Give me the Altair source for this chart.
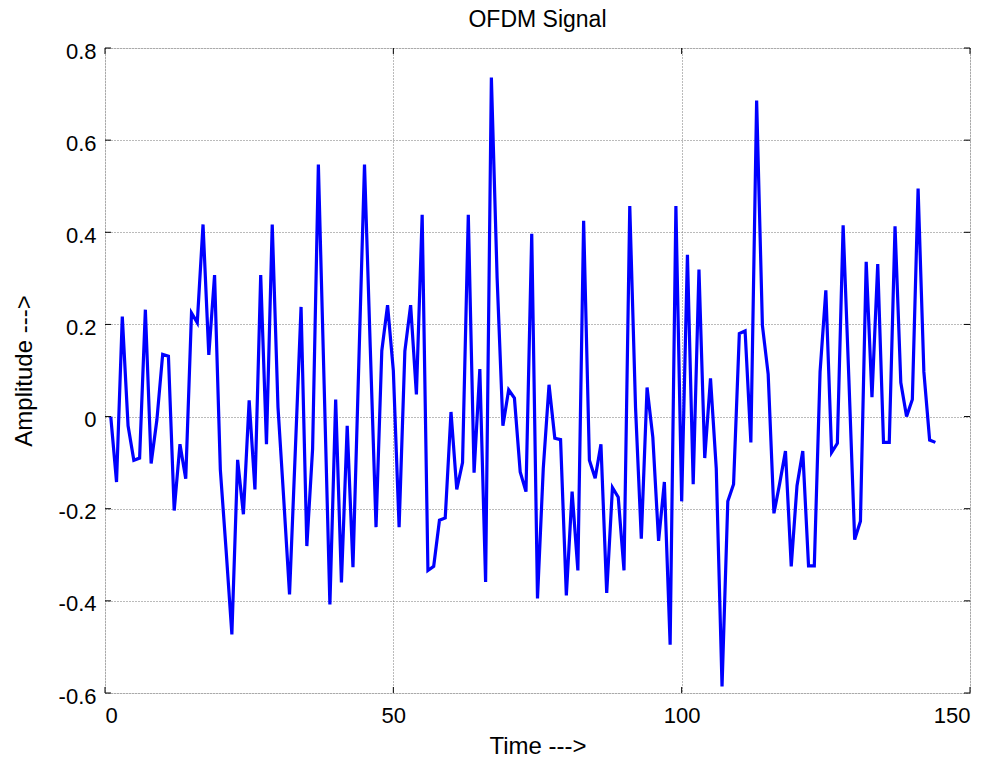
import altair as alt
import pandas as pd

# Real part of the OFDM time-domain samples, one value per sample index 1..144
amplitude = [
    0.0, -0.142, 0.217, -0.02, -0.095, -0.09, 0.232, -0.102, -0.007, 0.135,
    0.131, -0.204, -0.06, -0.135, 0.225, 0.204, 0.417, 0.134, 0.307, -0.115,
    -0.29, -0.473, -0.094, -0.212, 0.035, -0.158, 0.307, -0.06, 0.417, 0.02,
    -0.18, -0.386, -0.075, 0.238, -0.281, -0.07, 0.547, 0.07, -0.408, 0.037,
    -0.36, -0.02, -0.327, 0.11, 0.547, 0.15, -0.24, 0.143, 0.242, 0.1,
    -0.24, 0.142, 0.242, 0.048, 0.438, -0.334, -0.325, -0.225, -0.22, 0.01,
    -0.158, -0.10, 0.438, -0.122, 0.103, -0.359, 0.736, 0.3, -0.02, 0.058,
    0.04, -0.12, -0.163, 0.397, -0.395, -0.113, 0.069, -0.047, -0.05, -0.388,
    -0.163, -0.334, 0.425, -0.095, -0.134, -0.06, -0.383, -0.154, -0.175, -0.334,
    0.457, 0.02, -0.265, 0.063, -0.045, -0.27, -0.142, -0.495, 0.457, -0.184,
    0.351, -0.147, 0.319, -0.09, 0.083, -0.113, -0.586, -0.184, -0.147, 0.18,
    0.186, -0.056, 0.686, 0.198, 0.092, -0.21, -0.145, -0.075, -0.325, -0.15,
    -0.075, -0.324, -0.324, 0.097, 0.274, -0.078, -0.058, 0.415, 0.08, -0.267,
    -0.227, 0.336, 0.042, 0.331, -0.056, -0.056, 0.413, 0.074, 0.0, 0.037,
    0.495, 0.097, -0.051, -0.056,
]
sample_index = list(range(1, len(amplitude) + 1))

x_ticks = [0, 50, 100, 150]
y_ticks = [-0.6, -0.4, -0.2, 0, 0.2, 0.4, 0.6, 0.8]

W, H = 865, 645
FONT = "Liberation Sans"
TICK_LEN = 6

signal = pd.DataFrame({"t": sample_index, "amp": amplitude})
xt = pd.DataFrame({"v": x_ticks})
yt = pd.DataFrame({"v": y_ticks})

x_scale = alt.Scale(domain=[0, 150], nice=False, zero=False)
y_scale = alt.Scale(domain=[-0.6, 0.8], nice=False, zero=False)

x_axis = alt.Axis(
    values=x_ticks, grid=True, gridColor="#777777", gridDash=[1, 2], gridWidth=1,
    ticks=False, domain=False, labelFont=FONT, labelFontSize=22, labelColor="black",
    labelPadding=12, title="Time --->", titleFont=FONT, titleFontSize=24,
    titleFontWeight="normal", titleColor="black", titlePadding=8,
)
y_axis = alt.Axis(
    values=y_ticks, grid=True, gridColor="#777777", gridDash=[1, 2], gridWidth=1,
    ticks=False, domain=False, labelFont=FONT, labelFontSize=22, labelColor="black",
    labelPadding=9, labelOffset=3, labelExpr="'' + datum.value", title="Amplitude --->",
    titleFont=FONT, titleFontSize=24, titleFontWeight="normal", titleColor="black",
    titlePadding=22,
)

line = alt.Chart(signal).mark_line(color="#0000ff", strokeWidth=3.2).encode(
    x=alt.X("t:Q", scale=x_scale, axis=x_axis),
    y=alt.Y("amp:Q", scale=y_scale, axis=y_axis),
)

# Inward-pointing tick marks on all four sides of the box
tick_style = dict(color="black", strokeWidth=1)
bottom_ticks = alt.Chart(xt).mark_rule(**tick_style).encode(
    x=alt.X("v:Q", scale=x_scale), y=alt.value(H), y2=alt.value(H - TICK_LEN)
)
top_ticks = alt.Chart(xt).mark_rule(**tick_style).encode(
    x=alt.X("v:Q", scale=x_scale), y=alt.value(0), y2=alt.value(TICK_LEN)
)
left_ticks = alt.Chart(yt).mark_rule(**tick_style).encode(
    y=alt.Y("v:Q", scale=y_scale), x=alt.value(0), x2=alt.value(TICK_LEN)
)
right_ticks = alt.Chart(yt).mark_rule(**tick_style).encode(
    y=alt.Y("v:Q", scale=y_scale), x=alt.value(W), x2=alt.value(W - TICK_LEN)
)

chart = alt.layer(line, bottom_ticks, top_ticks, left_ticks, right_ticks).properties(
    width=W,
    height=H,
    title=alt.Title("OFDM Signal", font=FONT, fontSize=23, fontWeight="normal",
                    color="black", offset=8),
    autosize=alt.AutoSizeParams(type="none"),
    padding={"left": 105, "top": 48, "right": 28, "bottom": 67},
).configure_view(stroke="black", strokeWidth=1).configure(background="white")

chart.save("out.html", embed_options={"renderer": "svg", "actions": False})
